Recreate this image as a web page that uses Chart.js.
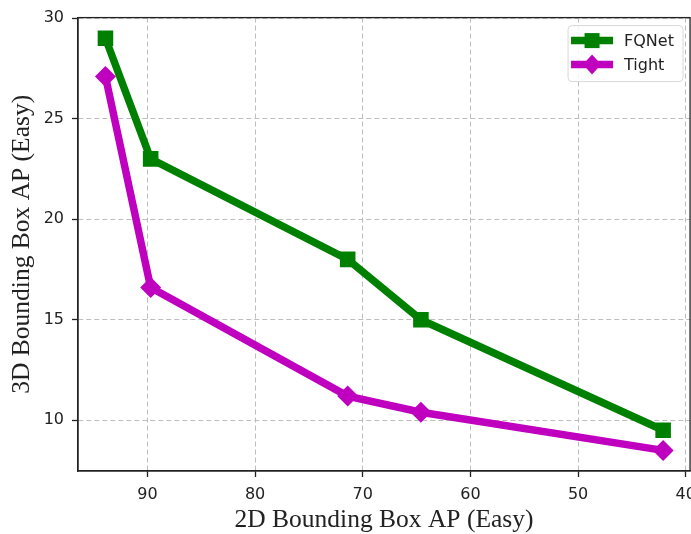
<!DOCTYPE html>
<html>
<head>
<meta charset="utf-8">
<script src="https://cdn.jsdelivr.net/npm/chart.js@4.4.0/dist/chart.umd.min.js"></script>
<style>
  html, body { margin: 0; padding: 0; background: #fff; overflow: hidden; }
  #wrap { width: 691px; height: 534px; position: relative; overflow: hidden; }
</style>
</head>
<body>
<div id="wrap"><canvas id="c" width="704" height="534" style="width:704px;height:534px;"></canvas></div>
<script>
// ---- data ----
const seriesNames = ['FQNet', 'Tight'];
const xValues = [93.9, 89.7, 71.4, 64.6, 42.1];
const fqnetY = [29.0, 23.0, 18.0, 15.0, 9.5];
const tightY = [27.1, 16.6, 11.2, 10.4, 8.5];
const xTicks = [90, 80, 70, 60, 50, 40];
const yTicks = [10, 15, 20, 25, 30];
const xTitle = '2D Bounding Box AP (Easy)';
const yTitle = '3D Bounding Box AP (Easy)';

const GREEN = '#008000';
const MAGENTA = '#bf00bf';

function pts(xs, ys) { return xs.map((x, i) => ({ x: x, y: ys[i] })); }

const frameAndLegend = {
  id: 'frameAndLegend',
  afterDraw(chart) {
    const ctx = chart.ctx;
    const a = chart.chartArea;
    ctx.save();
    ctx.strokeStyle = '#222';
    ctx.lineWidth = 1.3;
    ctx.setLineDash([]);
    ctx.strokeRect(a.left, a.top, a.right - a.left, a.bottom - a.top);

    const w = 115, h = 56;
    const x0 = a.right - 7 - w, y0 = a.top + 8;
    ctx.beginPath();
    const r = 4;
    ctx.moveTo(x0 + r, y0);
    ctx.arcTo(x0 + w, y0, x0 + w, y0 + h, r);
    ctx.arcTo(x0 + w, y0 + h, x0, y0 + h, r);
    ctx.arcTo(x0, y0 + h, x0, y0, r);
    ctx.arcTo(x0, y0, x0 + w, y0, r);
    ctx.closePath();
    ctx.fillStyle = 'rgba(255,255,255,0.85)';
    ctx.fill();
    ctx.strokeStyle = '#d8d8d8';
    ctx.lineWidth = 1;
    ctx.stroke();

    chart.data.datasets.forEach((ds, i) => {
      const cy = y0 + 15 + 24 * i;
      ctx.strokeStyle = ds.borderColor;
      ctx.lineWidth = 7.5;
      ctx.beginPath();
      ctx.moveTo(x0 + 3, cy);
      ctx.lineTo(x0 + 45, cy);
      ctx.stroke();
      const cx = x0 + 24;
      ctx.fillStyle = ds.backgroundColor;
      ctx.beginPath();
      if (ds.pointStyle === 'rect') {
        ctx.rect(cx - 7.5, cy - 7.5, 15, 15);
      } else {
        ctx.moveTo(cx, cy - 10); ctx.lineTo(cx + 9, cy); ctx.lineTo(cx, cy + 10); ctx.lineTo(cx - 9, cy); ctx.closePath();
      }
      ctx.fill();
      ctx.fillStyle = '#222';
      ctx.font = '16px "DejaVu Sans"';
      ctx.textBaseline = 'middle';
      ctx.textAlign = 'left';
      ctx.fillText(ds.label, x0 + 56, cy + 1);
    });
    ctx.restore();
  }
};

const gridCommon = {
  color: '#bdbdbd',
  lineWidth: 1,
  tickLength: 6,
  tickColor: '#222',
  tickWidth: 1.3,
  tickBorderDash: [],
  drawOnChartArea: true
};

new Chart(document.getElementById('c'), {
  type: 'scatter',
  data: {
    datasets: [
      {
        label: seriesNames[0],
        data: pts(xValues, fqnetY),
        showLine: true,
        borderColor: GREEN,
        backgroundColor: GREEN,
        borderWidth: 7.5,
        pointStyle: 'rect',
        pointRadius: 11,
        pointHoverRadius: 11,
        pointBorderWidth: 0,
        tension: 0
      },
      {
        label: seriesNames[1],
        data: pts(xValues, tightY),
        showLine: true,
        borderColor: MAGENTA,
        backgroundColor: MAGENTA,
        borderWidth: 7.5,
        pointStyle: 'rectRot',
        pointRadius: 10.5,
        pointHoverRadius: 10.5,
        pointBorderWidth: 0,
        tension: 0
      }
    ]
  },
  options: {
    responsive: false,
    animation: false,
    devicePixelRatio: 1,
    layout: { padding: { left: 0, right: 0, top: 17, bottom: 0 } },
    plugins: {
      legend: { display: false },
      tooltip: { enabled: false }
    },
    scales: {
      x: {
        type: 'linear',
        reverse: true,
        min: 39.6,
        max: 96.45,
        afterBuildTicks: (s) => { s.ticks = xTicks.map(v => ({ value: v })); },
        afterFit: (s) => { s.height = 63; },
        grid: gridCommon,
        border: { display: true, color: '#222', width: 1.3, dash: [5, 3] },
        ticks: {
          color: '#222',
          font: { family: 'DejaVu Sans', size: 16 },
          padding: 8,
          maxRotation: 0,
          autoSkip: false
        },
        title: {
          display: true,
          text: xTitle,
          color: '#222',
          font: { family: 'Liberation Serif', size: 25.5 },
          padding: { top: 0, bottom: -2 }
        }
      },
      y: {
        type: 'linear',
        min: 7.475,
        max: 30.025,
        afterBuildTicks: (s) => { s.ticks = yTicks.map(v => ({ value: v })); },
        afterFit: (s) => { s.width = 78; },
        grid: gridCommon,
        border: { display: true, color: '#222', width: 1.3, dash: [5, 3] },
        ticks: {
          color: '#222',
          font: { family: 'DejaVu Sans', size: 16 },
          padding: 8,
          autoSkip: false
        },
        title: {
          display: true,
          text: yTitle,
          color: '#222',
          font: { family: 'Liberation Serif', size: 25.5 },
          padding: { top: 7, bottom: 0 }
        }
      }
    }
  },
  plugins: [frameAndLegend]
});
</script>
</body>
</html>
